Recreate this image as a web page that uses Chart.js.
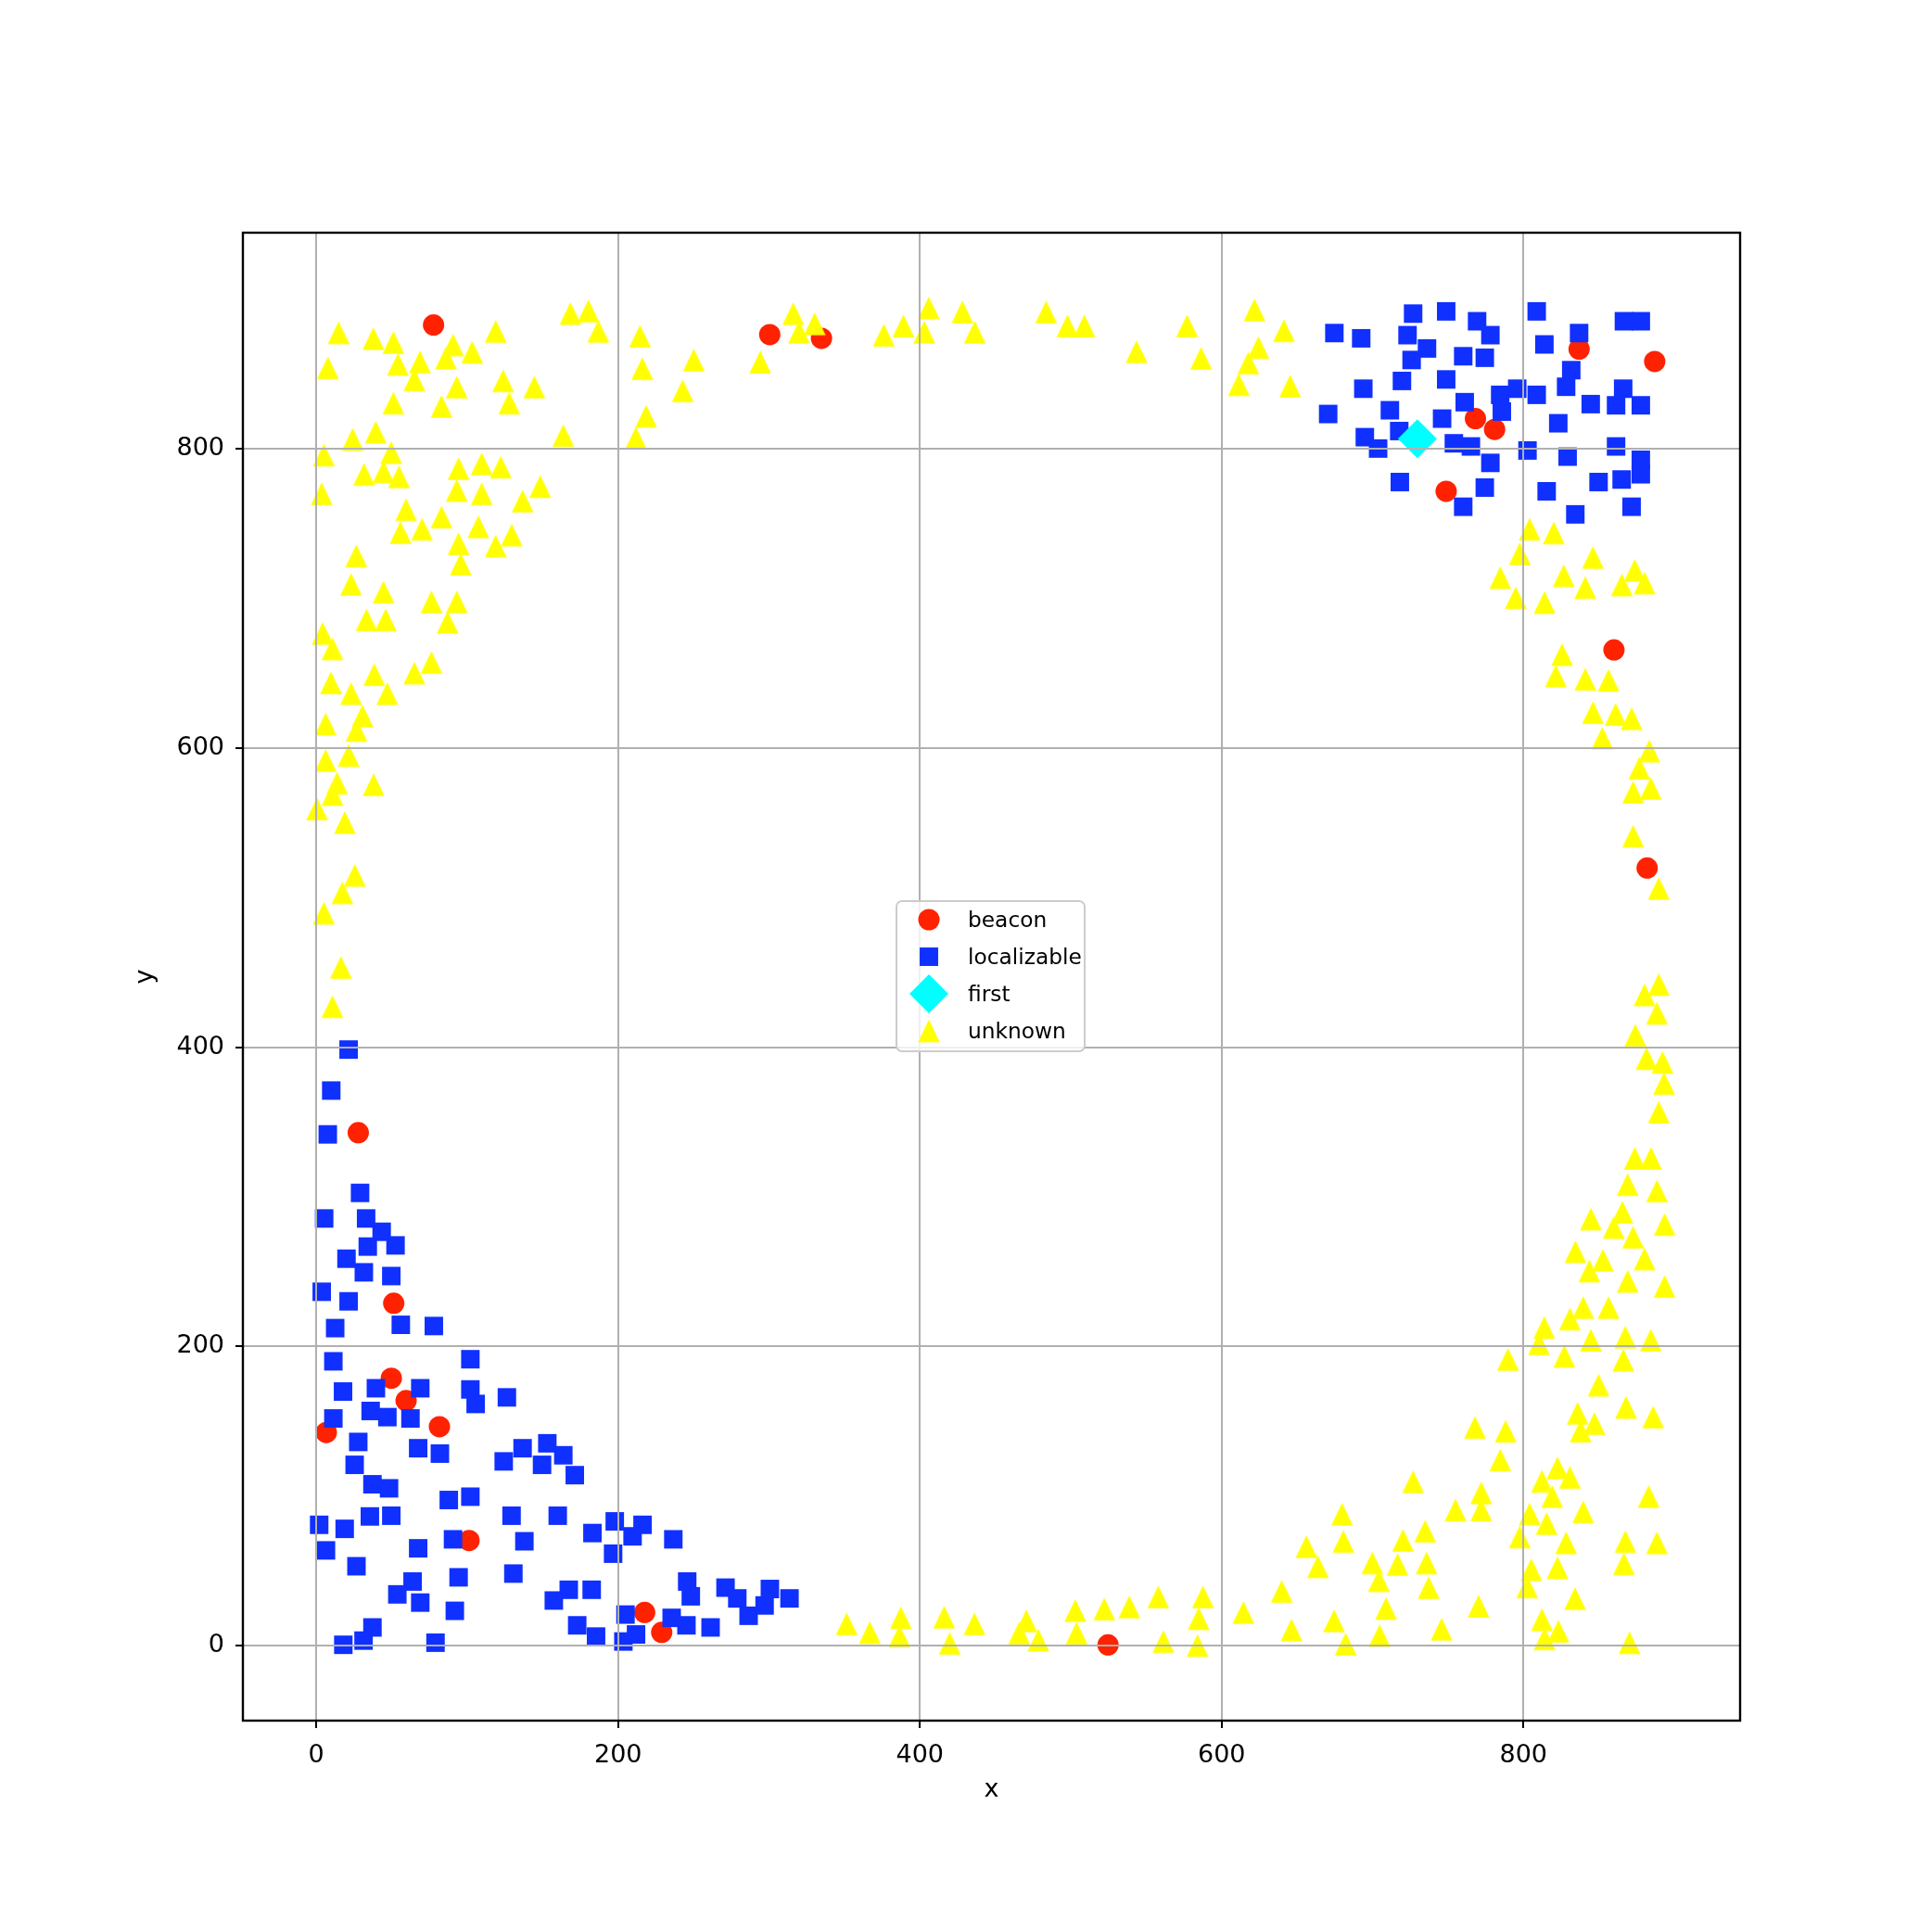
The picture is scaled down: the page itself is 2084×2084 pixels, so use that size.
<!DOCTYPE html>
<html>
<head>
<meta charset="utf-8">
<script src="https://cdn.jsdelivr.net/npm/chart.js@4/dist/chart.umd.min.js"></script>
<style>
  html, body { margin: 0; padding: 0; background: #fff; }
  canvas { display: block; }
</style>
</head>
<body>
<canvas id="chart" width="2084" height="2084"></canvas>
<script>
// axis ticks
const xTicks = [0, 200, 400, 600, 800]
const yTicks = [0, 200, 400, 600, 800]

// node positions, [x, y]
const beacon = [
  [27.8, 342.8], [51.3, 228.8], [49.7, 178.7], [59.5, 163.7], [6.6, 142.4],
  [81.6, 146.3], [101.2, 70.2], [217.6, 22.1], [228.9, 8.8], [77.7, 882.8],
  [300.5, 876.4], [334.8, 873.9], [524.7, 0.4], [768.2, 820.2], [780.9, 813.0],
  [836.9, 866.7], [887.0, 858.4], [748.8, 771.6], [860.0, 665.6], [882.0, 519.8]
]

const localizable = [
  [21.4, 398.4], [9.9, 371.0], [7.6, 341.7], [29.0, 302.6], [5.2, 285.5], [33.0, 285.5],
  [43.3, 276.6], [34.1, 266.7], [52.5, 267.5], [20.0, 258.6], [31.5, 249.5], [49.7, 247.0],
  [3.6, 236.5], [21.4, 230.1], [12.5, 212.2], [56.0, 214.4], [77.9, 213.6], [11.3, 190.0],
  [102.1, 191.4], [17.7, 169.8], [39.5, 172.0], [68.9, 172.0], [102.1, 171.2], [105.6, 161.5],
  [126.3, 165.9], [11.3, 151.8], [36.0, 156.8], [47.1, 152.7], [62.4, 151.8], [27.8, 136.1],
  [67.5, 131.9], [81.9, 128.3], [25.4, 120.8], [124.2, 123.1], [136.7, 131.9], [153.1, 135.2],
  [163.7, 127.2], [149.6, 120.8], [171.3, 113.9], [37.2, 107.8], [48.2, 105.1], [87.8, 97.3],
  [102.1, 99.5], [1.9, 80.7], [18.8, 78.0], [35.5, 86.3], [49.7, 86.8], [129.4, 86.8],
  [160.0, 86.8], [183.0, 75.2], [197.8, 83.0], [216.2, 80.7], [209.6, 73.0], [236.6, 71.0],
  [196.7, 61.4], [6.4, 63.6], [67.5, 65.0], [90.6, 71.0], [137.9, 69.7], [26.6, 53.0],
  [63.8, 42.8], [53.7, 34.2], [68.9, 28.7], [94.3, 45.6], [91.8, 23.2], [130.6, 48.1],
  [157.4, 30.1], [167.3, 37.3], [182.5, 37.3], [172.9, 13.5], [185.4, 6.0], [204.9, 20.7],
  [211.9, 7.4], [203.5, 2.7], [235.5, 18.5], [245.3, 13.5], [261.3, 12.1], [245.8, 42.8],
  [248.2, 32.9], [271.2, 38.7], [279.0, 31.5], [286.5, 19.9], [297.1, 26.8], [300.6, 37.8],
  [313.6, 31.5], [17.9, 0.5], [31.3, 3.3], [37.2, 12.1], [79.0, 1.9],
  [674.7, 877.4], [692.5, 873.9], [726.9, 890.4], [748.8, 891.9], [769.3, 885.3], [778.1, 876.0],
  [723.2, 876.0], [736.1, 867.1], [725.9, 859.4], [760.1, 861.9], [774.4, 860.9], [808.8, 891.9],
  [813.9, 869.8], [836.9, 877.4], [866.6, 885.3], [877.8, 885.3], [693.9, 840.2], [719.5, 845.4],
  [748.8, 846.4], [670.6, 823.3], [711.5, 825.8], [761.1, 831.2], [784.6, 836.1], [795.9, 840.2],
  [785.7, 824.9], [808.8, 836.1], [831.7, 852.6], [828.3, 841.5], [844.6, 829.9], [866.1, 840.2],
  [861.4, 829.1], [877.8, 829.1], [746.1, 820.2], [717.7, 811.9], [694.9, 807.8], [703.7, 800.2],
  [753.9, 803.7], [765.2, 801.6], [778.1, 790.6], [802.7, 798.9], [823.1, 817.1], [829.3, 794.8],
  [861.4, 801.6], [877.8, 792.7], [877.8, 783.0], [849.8, 777.8], [865.1, 779.5], [718.1, 777.8],
  [774.4, 774.1], [760.1, 761.3], [815.4, 771.6], [834.4, 756.2], [871.7, 761.3]
]

const first = [[729.7, 806.8]]

const unknown = [
  // left band
  [14.8, 877.6], [37.8, 873.7], [51.1, 871.1], [7.7, 854.2], [54.1, 856.5], [68.7, 858.1],
  [90.6, 869.5], [85.9, 860.7], [103.3, 864.6], [118.9, 878.6], [65.0, 846.1], [93.1, 841.3],
  [123.8, 845.5], [144.5, 841.3], [127.9, 830.6], [51.1, 830.6], [83.0, 828.3], [168.4, 890.5],
  [180.3, 892.2], [186.9, 878.6], [214.5, 875.3], [216.0, 853.6], [218.6, 821.8], [211.8, 807.2],
  [163.7, 808.9], [24.1, 806.3], [39.4, 811.1], [5.0, 795.9], [49.6, 797.5], [31.6, 782.9],
  [44.5, 784.6], [54.8, 781.3], [3.6, 770.0], [94.3, 786.8], [109.6, 790.0], [122.3, 787.8],
  [93.1, 772.2], [109.6, 770.0], [148.4, 774.8], [136.7, 765.1], [59.5, 759.3], [83.0, 754.4],
  [55.8, 744.0], [70.1, 746.3], [107.4, 747.9], [94.3, 736.6], [129.5, 742.4], [118.9, 735.0],
  [95.7, 723.0], [26.5, 728.5], [23.0, 709.4], [44.5, 704.2], [76.3, 697.7], [93.1, 697.7],
  [33.3, 685.7], [46.0, 685.7], [87.0, 684.1], [4.2, 676.6], [10.7, 666.3], [76.3, 657.2],
  [65.0, 650.1], [38.4, 649.1], [9.7, 643.6], [23.0, 636.4], [47.0, 636.4], [30.6, 621.5],
  [26.7, 611.8], [6.2, 616.0], [6.2, 591.7], [21.4, 595.0], [13.8, 576.5], [38.0, 575.5],
  [10.7, 569.0], [0.5, 559.3], [18.9, 550.2], [25.5, 514.9], [17.3, 503.2], [5.0, 489.6],
  [16.3, 453.3], [10.7, 427.1],
  // top edge
  [250.2, 859.4], [242.8, 838.8], [294.2, 858.0], [316.1, 890.4], [319.9, 878.0], [330.3, 883.6],
  [376.1, 876.0], [389.1, 882.2], [405.9, 894.2], [402.9, 878.0], [428.2, 891.5], [436.4, 878.0],
  [483.7, 891.5], [497.8, 882.2], [509.0, 882.2], [543.6, 865.0], [577.1, 882.2], [586.4, 860.5],
  [621.8, 892.9], [624.4, 867.7], [617.7, 857.4], [611.4, 842.9], [641.3, 879.0], [645.4, 841.9],
  // right band
  [804.1, 746.3], [820.1, 743.8], [797.6, 729.9], [846.1, 727.4], [784.7, 713.9], [826.7, 715.2],
  [841.0, 707.3], [865.2, 709.0], [873.8, 718.8], [880.3, 710.3], [794.9, 700.4], [814.0, 697.3],
  [825.6, 662.5], [821.5, 648.2], [841.0, 646.0], [856.4, 645.3], [846.1, 623.7], [861.1, 622.5],
  [871.7, 619.6], [852.3, 606.6], [883.4, 598.0], [876.8, 586.5], [872.7, 570.5], [884.4, 573.0],
  [872.7, 541.1], [889.7, 506.1], [889.7, 441.9], [880.3, 435.0], [888.5, 422.7], [874.2, 408.0],
  [881.6, 392.4], [892.2, 389.9],
  [893.2, 375.8], [889.7, 356.6], [873.8, 325.7], [884.6, 325.7], [869.1, 308.2], [888.5, 303.9],
  [844.7, 285.1], [865.6, 289.7], [859.8, 279.5], [893.6, 281.5], [872.7, 273.0], [834.5, 263.3],
  [852.7, 257.6], [843.7, 250.4], [880.3, 258.4], [869.1, 243.5], [893.6, 240.1], [839.6, 226.0],
  [830.8, 218.3], [856.4, 226.0], [813.8, 212.6], [810.3, 201.8], [844.7, 204.1], [867.6, 206.2],
  [884.4, 204.1], [789.8, 191.3], [827.1, 193.4], [866.2, 190.8], [849.8, 174.1], [835.9, 155.3],
  [868.0, 159.2], [886.0, 152.8], [847.1, 148.4], [837.9, 143.3], [767.9, 145.8], [788.2, 143.3],
  [784.7, 124.0], [822.6, 118.8], [812.3, 109.8], [830.8, 112.4], [772.0, 102.1], [883.0, 99.6],
  [819.1, 99.6], [755.0, 90.6], [772.0, 90.6], [804.1, 88.0], [839.6, 89.3], [815.4, 81.6],
  [797.6, 72.6], [828.3, 68.7], [867.6, 69.5], [888.5, 68.7], [866.6, 54.6], [805.2, 50.7],
  [822.6, 52.0], [802.5, 39.2], [770.3, 26.3], [834.2, 31.4], [812.3, 17.3], [823.2, 9.6],
  [814.0, 4.5], [870.3, 1.9], [745.8, 10.9],
  // bottom edge
  [351.5, 14.5], [366.8, 8.7], [387.4, 18.6], [386.5, 6.2], [416.1, 19.0], [436.2, 14.5],
  [419.8, 1.5], [470.6, 16.5], [465.8, 8.3], [478.5, 3.5], [503.0, 23.4], [503.9, 8.3],
  [522.2, 24.4], [538.8, 25.8], [558.0, 32.5], [561.4, 2.7], [587.6, 32.5], [584.8, 18.0],
  [584.0, 0.0], [614.4, 22.1], [639.8, 36.2], [646.3, 10.4], [656.2, 66.1], [663.8, 52.7],
  [680.7, 69.6], [674.5, 16.5], [682.2, 1.0], [699.9, 55.2], [704.2, 43.4], [716.6, 54.2],
  [720.2, 70.3], [709.0, 24.8], [704.7, 6.6], [735.8, 55.2], [737.2, 38.7], [734.9, 76.5],
  [726.9, 109.5], [679.8, 87.8]
]

const FONT = '"DejaVu Sans", sans-serif'

// matplotlib style '^' marker: as wide as it is tall
function triangleMarker(w, h, color) {
  const c = document.createElement('canvas')
  c.width = Math.ceil(w) + 2
  c.height = Math.ceil(h) + 2
  const g = c.getContext('2d')
  const cx = c.width / 2, cy = c.height / 2
  g.beginPath()
  g.moveTo(cx, cy - h / 2)
  g.lineTo(cx + w / 2, cy + h / 2)
  g.lineTo(cx - w / 2, cy + h / 2)
  g.closePath()
  g.fillStyle = color
  g.fill()
  return c
}

const triangle = triangleMarker(23.5, 24.5, '#ffff00')

const toPoints = arr => arr.map(([x, y]) => ({ x, y }))

// grid sits above the markers, like matplotlib's default zorder
const gridOnTop = {
  id: 'gridOnTop',
  afterDatasetsDraw(chart) {
    const { ctx, chartArea: a, scales: { x, y } } = chart
    ctx.save()
    ctx.lineWidth = 2
    ctx.strokeStyle = '#b0b0b0'
    ctx.beginPath()
    xTicks.forEach(v => {
      const px = Math.round(x.getPixelForValue(v))
      ctx.moveTo(px, a.top)
      ctx.lineTo(px, a.bottom)
    })
    yTicks.forEach(v => {
      const py = Math.round(y.getPixelForValue(v))
      ctx.moveTo(a.left, py)
      ctx.lineTo(a.right, py)
    })
    ctx.stroke()

    ctx.strokeStyle = '#000'
    ctx.beginPath()
    xTicks.forEach(v => {
      const px = Math.round(x.getPixelForValue(v))
      ctx.moveTo(px, a.bottom)
      ctx.lineTo(px, a.bottom + 8)
    })
    yTicks.forEach(v => {
      const py = Math.round(y.getPixelForValue(v))
      ctx.moveTo(a.left - 8, py)
      ctx.lineTo(a.left, py)
    })
    ctx.stroke()

    ctx.lineWidth = 2.4
    ctx.strokeRect(a.left, a.top, a.right - a.left, a.bottom - a.top)
    ctx.restore()
  }
}

// legend box in the middle of the plot
const legendBox = {
  id: 'legendBox',
  afterDraw(chart) {
    const { ctx } = chart
    const box = { x: 967, y: 972, w: 203, h: 162 }
    ctx.save()
    ctx.beginPath()
    ctx.roundRect(box.x, box.y, box.w, box.h, 6)
    ctx.fillStyle = 'rgba(255,255,255,0.8)'
    ctx.fill()
    ctx.lineWidth = 2
    ctx.strokeStyle = '#cccccc'
    ctx.stroke()

    chart.data.datasets.forEach((ds, i) => {
      const my = 992 + i * 40
      ctx.fillStyle = ds.backgroundColor
      Chart.helpers.drawPoint(ctx, {
        pointStyle: ds.pointStyle,
        radius: ds.pointRadius,
        borderWidth: 0,
        rotation: 0
      }, 1002, my)
      ctx.fillStyle = '#000'
      ctx.font = '23.3px ' + FONT
      ctx.textBaseline = 'alphabetic'
      ctx.textAlign = 'left'
      ctx.fillText(ds.label, 1044, my + 7.5)
    })
    ctx.restore()
  }
}

const tickFont = { family: FONT, size: 27 }

new Chart(document.getElementById('chart'), {
  type: 'scatter',
  data: {
    datasets: [
      {
        label: 'beacon',
        data: toPoints(beacon),
        pointStyle: 'circle',
        pointRadius: 11.5,
        backgroundColor: '#ff2200',
        borderWidth: 0,
        order: 4
      },
      {
        label: 'localizable',
        data: toPoints(localizable),
        pointStyle: 'rect',
        pointRadius: 14.1,
        backgroundColor: '#1030ff',
        borderWidth: 0,
        order: 3
      },
      {
        label: 'first',
        data: toPoints(first),
        pointStyle: 'rectRot',
        pointRadius: 21,
        backgroundColor: '#00ffff',
        borderWidth: 0,
        order: 2
      },
      {
        label: 'unknown',
        data: toPoints(unknown),
        pointStyle: triangle,
        pointRadius: 12,
        backgroundColor: '#ffff00',
        borderWidth: 0,
        order: 1
      }
    ]
  },
  options: {
    responsive: false,
    animation: false,
    events: [],
    layout: {
      padding: { top: 251, right: 207, bottom: 0, left: 0 }
    },
    plugins: {
      legend: { display: false },
      tooltip: { enabled: false }
    },
    scales: {
      x: {
        type: 'linear',
        min: -48.66,
        max: 943.6,
        afterBuildTicks: s => { s.ticks = xTicks.map(v => ({ value: v })) },
        afterFit: s => { s.height = 228 },
        grid: { display: false, drawTicks: false },
        border: { display: false },
        ticks: { font: tickFont, color: '#000', padding: 22, maxRotation: 0, autoSkip: false },
        title: {
          display: true,
          text: 'x',
          color: '#000',
          font: { family: FONT, size: 27 },
          padding: { top: 0, bottom: 137 }
        }
      },
      y: {
        type: 'linear',
        min: -50.2,
        max: 944.5,
        afterBuildTicks: s => { s.ticks = yTicks.map(v => ({ value: v })) },
        afterFit: s => { s.width = 262 },
        grid: { display: false, drawTicks: false },
        border: { display: false },
        ticks: { font: tickFont, color: '#000', padding: 20, autoSkip: false },
        title: {
          display: true,
          text: 'y',
          color: '#000',
          font: { family: FONT, size: 27 },
          padding: { top: 141, bottom: 0 }
        }
      }
    }
  },
  plugins: [gridOnTop, legendBox]
})
</script>
</body>
</html>
